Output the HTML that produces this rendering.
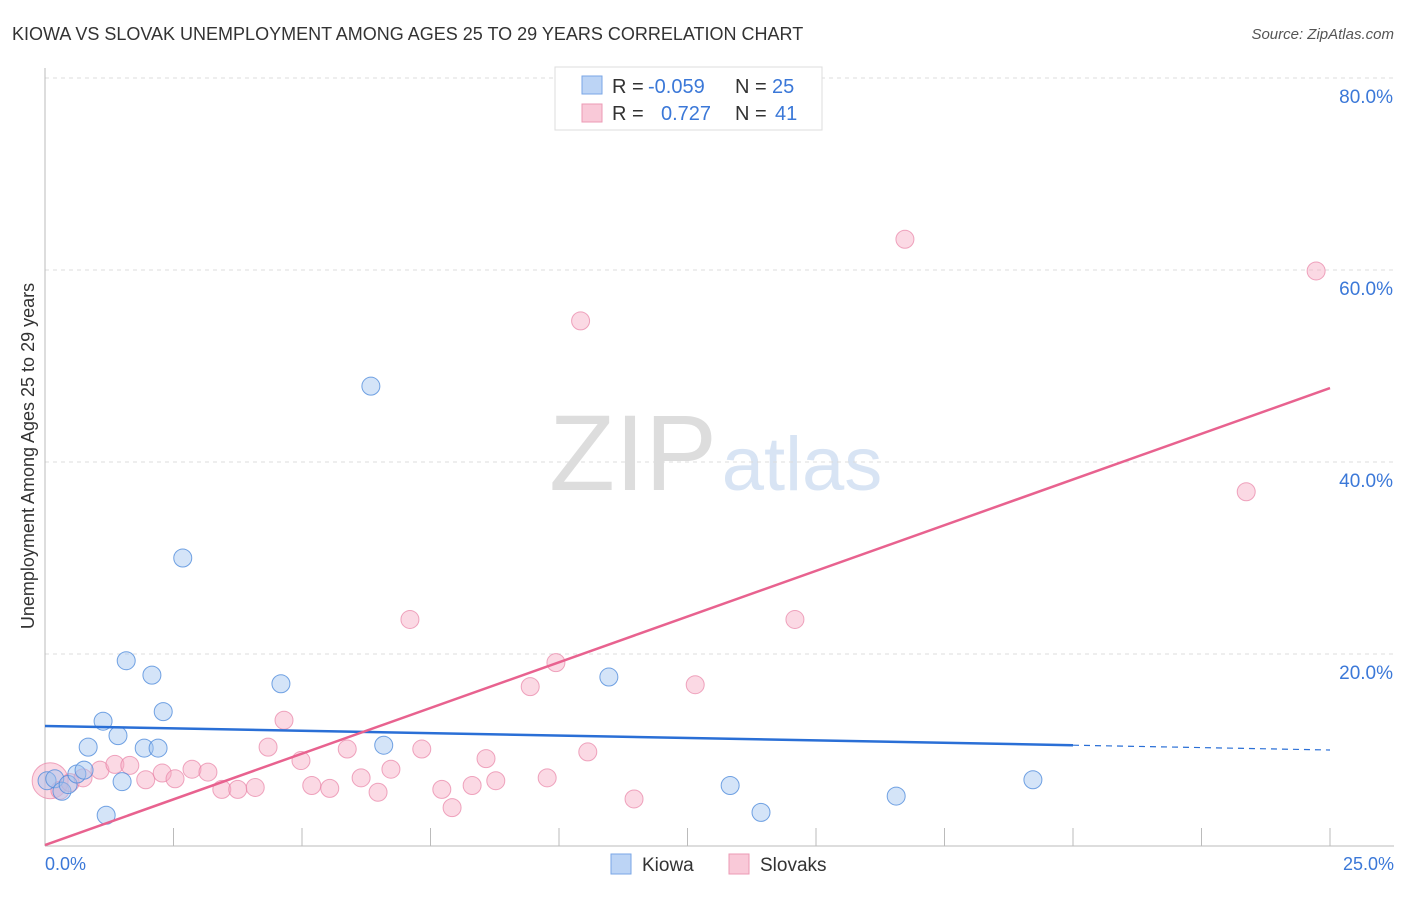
<!DOCTYPE html>
<html><head><meta charset="utf-8"><style>
body{margin:0;background:#fff;font-family:"Liberation Sans",sans-serif}
svg text{font-family:"Liberation Sans",sans-serif}
</style></head><body>
<svg id="c" width="1406" height="892">
<text x="12" y="40" font-size="18" fill="#333">KIOWA VS SLOVAK UNEMPLOYMENT AMONG AGES 25 TO 29 YEARS CORRELATION CHART</text>
<text x="1394" y="39" font-size="15" fill="#555" text-anchor="end" font-style="italic">Source: ZipAtlas.com</text>
<text x="34" y="456" font-size="18" fill="#333" text-anchor="middle" transform="rotate(-90 34 456)">Unemployment Among Ages 25 to 29 years</text>
<text x="633" y="490" font-size="108" fill="#ddd" font-family="Liberation Serif" text-anchor="middle">ZIP</text>
<text x="802" y="490" font-size="76" fill="#d8e4f4" text-anchor="middle">atlas</text>
<g id="grid"></g><g id="pts"></g><g id="lines"></g>
<g>
<rect x="555" y="67" width="267" height="63" fill="#fff" stroke="#ddd"/>
<rect x="582" y="76" width="20" height="18" fill="#bcd4f5" stroke="#7aa6e6"/>
<rect x="582" y="104" width="20" height="18" fill="#f9c9d8" stroke="#ec9ab5"/>
<text x="612" y="93" font-size="20" fill="#333">R = <tspan x="648" fill="#3b78d8">-0.059</tspan><tspan x="735">N = </tspan><tspan x="772" fill="#3b78d8">25</tspan></text>
<text x="612" y="120" font-size="20" fill="#333">R = <tspan x="661" fill="#3b78d8">0.727</tspan><tspan x="735">N = </tspan><tspan x="775" fill="#3b78d8">41</tspan></text>
</g>
<g>
<rect x="611" y="854" width="20" height="20" fill="#bcd4f5" stroke="#7aa6e6"/>
<text x="642" y="871" font-size="19" fill="#333">Kiowa</text>
<rect x="729" y="854" width="20" height="20" fill="#f9c9d8" stroke="#ec9ab5"/>
<text x="760" y="871" font-size="19" fill="#333">Slovaks</text>
</g>
</svg>
<script>
const yTicks=[20,40,60,80];
const yTickLabels=["20.0%","40.0%","60.0%","80.0%"];
const xTickLabels=["0.0%","25.0%"];
const kiowaX=[0.04,0.19,0.33,0.45,0.62,0.76,0.84,1.13,1.19,1.42,1.5,1.58,1.93,2.08,2.2,2.3,2.68,4.59,6.34,6.59,10.97,13.33,13.93,16.56,19.22];
const kiowaY=[6.8,7.0,5.7,6.4,7.5,7.9,10.3,13.0,3.2,11.5,6.7,19.3,10.2,17.8,10.2,14.0,30.0,16.9,47.9,10.5,17.6,6.3,3.5,5.2,6.9];
const slovX=[0.1,0.29,0.49,0.74,1.07,1.36,1.65,1.96,2.28,2.53,2.86,3.17,3.44,3.75,4.09,4.34,4.65,4.98,5.19,5.54,5.88,6.15,6.48,6.73,7.1,7.33,7.72,7.92,8.31,8.58,8.77,9.44,9.77,9.94,10.42,10.56,11.46,12.65,14.59,16.73,23.37,24.73];
const slovY=[6.8,5.8,6.6,7.1,7.9,8.5,8.4,6.9,7.6,7.0,8.0,7.7,5.9,5.9,6.1,10.3,13.1,8.9,6.3,6.0,10.1,7.1,5.6,8.0,23.6,10.1,5.9,4.0,6.3,9.1,6.8,16.6,7.1,19.1,54.7,9.8,4.9,16.8,23.6,63.2,36.9,59.9];
const kiowaTrend=[12.5,10.5,10.0];
const slovTrend=[0.1,47.7];
const X=v=>45+v*51.4, Y=v=>846-v*9.6;
const NS="http://www.w3.org/2000/svg";
function mk(p,t,a){const e=document.createElementNS(NS,t);for(const k in a)e.setAttribute(k,a[k]);document.getElementById(p).appendChild(e);return e;}
yTicks.forEach((t,i)=>{
 const l=mk('grid','line',{x1:45,x2:1394,y1:Y(t),y2:Y(t),stroke:'#ddd','stroke-dasharray':'4,4'});
 
 
 const tx=mk('grid','text',{x:1393,y:Y(t)+25,'font-size':19,fill:'#3b78d8','text-anchor':'end'});tx.textContent=yTickLabels[i];
 
 
});
const ax=mk('grid','line',{x1:45,x2:45,y1:68,y2:846,stroke:'#bbb'});


const bx=mk('grid','line',{x1:45,x2:1394,y1:846,y2:846,stroke:'#bbb'});


for(let i=0;i<=10;i++){const t=mk('grid','line',{x1:X(i*2.5),x2:X(i*2.5),y1:828,y2:846,stroke:'#bbb'});
 
 }
[[0,'start',45],[25,'end',1394]].forEach((d,i)=>{const t=mk('grid','text',{x:d[2],y:870,'font-size':18,fill:'#3b78d8','text-anchor':d[1]});t.textContent=xTickLabels[i];
 
 });
slovX.forEach((x,i)=>{const c=mk('pts','circle',{cx:X(x),cy:Y(slovY[i]),r:i==0?18:9,fill:'rgba(246,170,195,0.45)',stroke:'rgba(232,130,165,0.7)'});
 
 });
kiowaX.forEach((x,i)=>{const c=mk('pts','circle',{cx:X(x),cy:Y(kiowaY[i]),r:9,fill:'rgba(160,195,240,0.45)',stroke:'rgba(80,140,220,0.8)'});
 
 });
const k1=mk('lines','line',{x1:X(0),y1:Y(kiowaTrend[0]),x2:X(20),y2:Y(kiowaTrend[1]),stroke:'#2a6fd6','stroke-width':2.5});


const k2=mk('lines','line',{x1:X(20),y1:Y(kiowaTrend[1]),x2:X(25),y2:Y(kiowaTrend[2]),stroke:'#2a6fd6','stroke-width':1.2,'stroke-dasharray':'6,5'});


const s1=mk('lines','line',{x1:X(0),y1:Y(slovTrend[0]),x2:X(25),y2:Y(slovTrend[1]),stroke:'#e8628f','stroke-width':2.5});


</script>
</body></html>
